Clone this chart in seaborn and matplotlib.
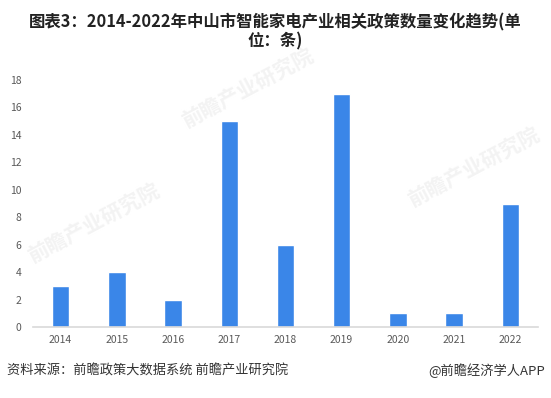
import matplotlib
matplotlib.use('Agg')
import matplotlib.pyplot as plt
import pandas as pd
import seaborn as sns

# data
years = ['2014', '2015', '2016', '2017', '2018', '2019', '2020', '2021', '2022']
counts = [3, 4, 2, 15, 6, 17, 1, 1, 9]

title = '图表3：2014-2022年中山市智能家电产业相关政策数量变化趋势(单\n位：条)'
source = '资料来源：前瞻政策大数据系统 前瞻产业研究院'
credit = '@前瞻经济学人APP'
watermark = '前瞻产业研究院'

sns.set_style('white')
plt.rcParams['font.family'] = ['Noto Sans CJK SC', 'DejaVu Sans']

df = pd.DataFrame({'year': years, 'count': counts})

fig = plt.figure(figsize=(5.51, 3.98), dpi=100)
ax = fig.add_axes([0.059, 0.178, 0.918, 0.621])

# faint watermarks behind the bars
for x, y in [(0.45, 0.78), (0.86, 0.58), (0.17, 0.44)]:
    fig.text(x, y, watermark, fontsize=15, fontweight='bold', color='#f3f3f3',
             rotation=28, ha='center', va='center', zorder=0)

sns.barplot(data=df, x='year', y='count', color='#3a86e8', width=0.31,
            saturation=1, ax=ax, zorder=2)
ax.patch.set_alpha(0)

ax.set_ylim(0, 18)
ax.set_yticks(range(0, 19, 2))
ax.set_xlim(-0.5, len(years) - 0.5)
ax.set_xlabel('')
ax.set_ylabel('')
for s in ['top', 'right', 'left']:
    ax.spines[s].set_visible(False)
ax.spines['bottom'].set_color('#d9d9d9')
ax.spines['bottom'].set_linewidth(1.2)
ax.tick_params(axis='both', length=0, labelsize=7.5, colors='#595959', pad=6)
ax.tick_params(axis='y', pad=8)

fig.text(0.5, 0.965, title, ha='center', va='top', fontsize=11.8,
         fontweight='bold', color='#222222', linespacing=1.0)
fig.text(0.013, 0.068, source, ha='left', va='center', fontsize=9.5, color='#333333')
fig.text(0.99, 0.068, credit, ha='right', va='center', fontsize=9.5, color='#333333')

fig.savefig('out.png', dpi=100)
